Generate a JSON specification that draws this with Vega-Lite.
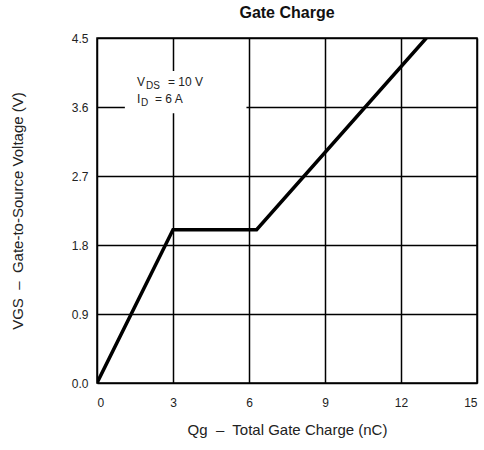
{
  "$schema": "https://vega.github.io/schema/vega-lite/v6.json",
  "width": 380,
  "height": 345,
  "autosize": "none",
  "padding": {"left": 97, "top": 38, "right": 7, "bottom": 67},
  "background": "white",
  "config": {
    "font": "Liberation Sans",
    "view": {"stroke": "black", "strokeWidth": 1.5},
    "axis": {
      "grid": true, "gridColor": "black", "gridOpacity": 1, "gridWidth": 1.5,
      "domain": false, "ticks": false,
      "labelFont": "Liberation Sans", "labelFontSize": 12, "labelColor": "#222",
      "titleFont": "Liberation Sans", "titleFontSize": 15, "titleFontWeight": "normal", "titleColor": "#222"
    }
  },
  "title": {"text": "Gate Charge", "font": "Liberation Sans", "fontSize": 16, "fontWeight": "bold", "color": "#111", "offset": 11, "anchor": "middle"},
  "layer": [
    {
      "data": {"values": [{"q1": 1.1, "q2": 5.9, "v1": 3.52, "v2": 4.07}]},
      "mark": {"type": "rect", "color": "white"},
      "encoding": {
        "x": {"field": "q1", "type": "quantitative", "scale": {"domain": [0, 15], "nice": false}, "axis": {"values": [0, 3, 6, 9, 12, 15], "labelPadding": 14, "title": "Qg \u00a0–\u00a0 Total Gate Charge (nC)", "titlePadding": 14}},
        "x2": {"field": "q2"},
        "y": {"field": "v1", "type": "quantitative", "scale": {"domain": [0, 4.5], "nice": false}, "axis": {"values": [0, 0.9, 1.8, 2.7, 3.6, 4.5], "format": ".1f", "labelPadding": 9, "title": "VGS \u00a0–\u00a0 Gate-to-Source Voltage (V)", "titlePadding": 46}},
        "y2": {"field": "v2"}
      }
    },
    {
      "data": {"values": [
        {"q": 0, "v": 0},
        {"q": 3, "v": 2.0},
        {"q": 6.3, "v": 2.0},
        {"q": 13.0, "v": 4.5}
      ]},
      "mark": {"type": "line", "color": "black", "strokeWidth": 3.5, "clip": true},
      "encoding": {
        "x": {"field": "q", "type": "quantitative"},
        "y": {"field": "v", "type": "quantitative"}
      }
    },
    {
      "data": {"values": [{"q": 1.58, "v": 3.87}]},
      "layer": [
        {"mark": {"type": "text", "text": "V", "align": "left", "baseline": "alphabetic", "fontSize": 12, "color": "#222"}, "encoding": {"x": {"field": "q", "type": "quantitative"}, "y": {"field": "v", "type": "quantitative"}}},
        {"mark": {"type": "text", "text": "DS", "align": "left", "baseline": "alphabetic", "fontSize": 10, "dx": 9, "dy": 3, "color": "#222"}, "encoding": {"x": {"field": "q", "type": "quantitative"}, "y": {"field": "v", "type": "quantitative"}}},
        {"mark": {"type": "text", "text": "= 10 V", "align": "left", "baseline": "alphabetic", "fontSize": 12, "dx": 31, "color": "#222"}, "encoding": {"x": {"field": "q", "type": "quantitative"}, "y": {"field": "v", "type": "quantitative"}}}
      ]
    },
    {
      "data": {"values": [{"q": 1.58, "v": 3.65}]},
      "layer": [
        {"mark": {"type": "text", "text": "I", "align": "left", "baseline": "alphabetic", "fontSize": 12, "color": "#222"}, "encoding": {"x": {"field": "q", "type": "quantitative"}, "y": {"field": "v", "type": "quantitative"}}},
        {"mark": {"type": "text", "text": "D", "align": "left", "baseline": "alphabetic", "fontSize": 10, "dx": 4, "dy": 3, "color": "#222"}, "encoding": {"x": {"field": "q", "type": "quantitative"}, "y": {"field": "v", "type": "quantitative"}}},
        {"mark": {"type": "text", "text": "= 6 A", "align": "left", "baseline": "alphabetic", "fontSize": 12, "dx": 18, "color": "#222"}, "encoding": {"x": {"field": "q", "type": "quantitative"}, "y": {"field": "v", "type": "quantitative"}}}
      ]
    }
  ]
}
